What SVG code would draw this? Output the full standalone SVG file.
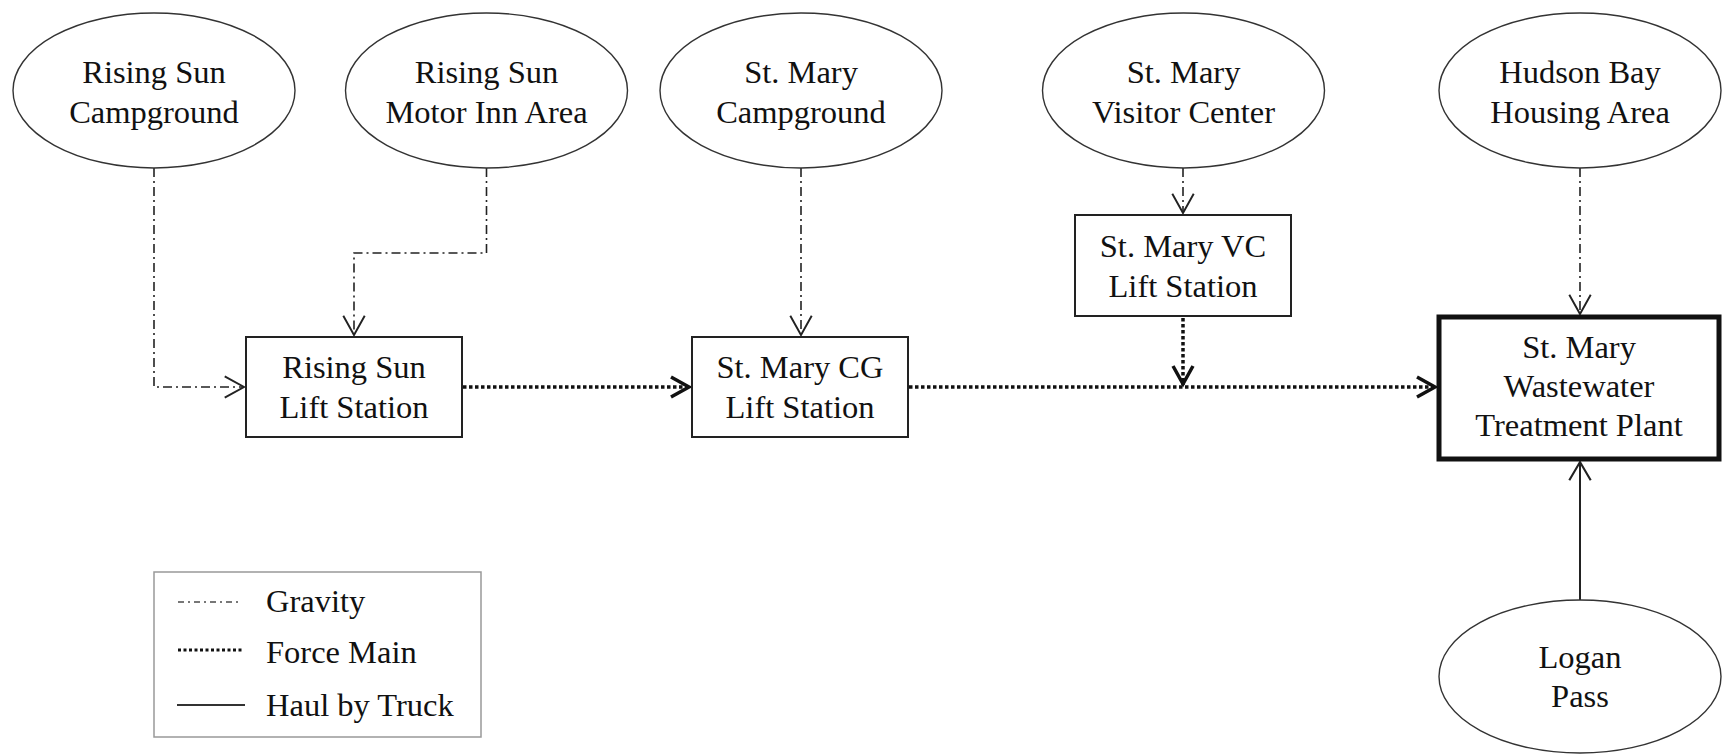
<svg xmlns="http://www.w3.org/2000/svg" width="1722" height="754" viewBox="0 0 1722 754">
<style>
  text { font-family: "Liberation Serif", "Times New Roman", serif; font-size: 32.5px; fill: #111; text-anchor: middle; }
  .leg text, text.leg { text-anchor: start; }
  .ell { fill: #fff; stroke: #333; stroke-width: 1.4; }
  .box { fill: #fff; stroke: #222; stroke-width: 2; }
  .plant { fill: #fff; stroke: #111; stroke-width: 5; }
  .grav { fill: none; stroke: #222; stroke-width: 1.6; stroke-dasharray: 9 4 2 4; }
  .force { fill: none; stroke: #111; stroke-width: 3.5; stroke-dasharray: 3.5 2.5; }
  .truck { fill: none; stroke: #222; stroke-width: 2; }
</style>
<defs>
  <marker id="arrG" markerUnits="userSpaceOnUse" markerWidth="30" markerHeight="30" viewBox="-22 -14 26 28" refX="0" refY="0" orient="auto">
    <path d="M-18,-10 L0,0 L-18,10" fill="none" stroke="#222" stroke-width="1.8"/>
  </marker>
  <marker id="arrF" markerUnits="userSpaceOnUse" markerWidth="30" markerHeight="30" viewBox="-24 -15 28 30" refX="0" refY="0" orient="auto">
    <path d="M-19,-10 L-1,0 L-19,10" fill="none" stroke="#111" stroke-width="3.5"/>
  </marker>
  <marker id="arrT" markerUnits="userSpaceOnUse" markerWidth="30" markerHeight="30" viewBox="-22 -14 26 28" refX="0" refY="0" orient="auto">
    <path d="M-17,-10 L0,0 L-17,10" fill="none" stroke="#222" stroke-width="2"/>
  </marker>
</defs>

<g id="connectors">
  <polyline class="grav" points="154,168 154,387 244,387" marker-end="url(#arrG)"/>
  <polyline class="grav" points="486.5,168 486.5,253 354,253 354,335" marker-end="url(#arrG)"/>
  <polyline class="grav" points="801,168 801,335" marker-end="url(#arrG)"/>
  <polyline class="grav" points="1183,168 1183,213" marker-end="url(#arrG)"/>
  <polyline class="grav" points="1580,168 1580,314" marker-end="url(#arrG)"/>
  <line class="force" x1="463" y1="387" x2="690" y2="387" marker-end="url(#arrF)"/>
  <line class="force" x1="909" y1="387" x2="1436" y2="387" marker-end="url(#arrF)"/>
  <line class="force" x1="1183" y1="318" x2="1183" y2="385" marker-end="url(#arrF)"/>
  <line class="truck" x1="1580" y1="600" x2="1580" y2="462" marker-end="url(#arrT)"/>
</g>

<g id="rising-sun-campground">
  <ellipse class="ell" cx="154" cy="90.5" rx="141" ry="77.5"/>
  <text x="154" y="82.5">Rising Sun</text>
  <text x="154" y="122.5">Campground</text>
</g>
<g id="rising-sun-motor-inn">
  <ellipse class="ell" cx="486.5" cy="90.5" rx="141" ry="77.5"/>
  <text x="486.5" y="82.5">Rising Sun</text>
  <text x="486.5" y="122.5">Motor Inn Area</text>
</g>
<g id="st-mary-campground">
  <ellipse class="ell" cx="801" cy="90.5" rx="141" ry="77.5"/>
  <text x="801" y="82.5">St. Mary</text>
  <text x="801" y="122.5">Campground</text>
</g>
<g id="st-mary-visitor-center">
  <ellipse class="ell" cx="1183.5" cy="90.5" rx="141" ry="77.5"/>
  <text x="1183.5" y="82.5">St. Mary</text>
  <text x="1183.5" y="122.5">Visitor Center</text>
</g>
<g id="hudson-bay">
  <ellipse class="ell" cx="1580" cy="90.5" rx="141" ry="77.5"/>
  <text x="1580" y="82.5">Hudson Bay</text>
  <text x="1580" y="122.5">Housing Area</text>
</g>

<g id="rising-sun-lift">
  <rect class="box" x="246" y="337" width="216" height="100"/>
  <text x="354" y="378">Rising Sun</text>
  <text x="354" y="418">Lift Station</text>
</g>
<g id="st-mary-cg-lift">
  <rect class="box" x="692" y="337" width="216" height="100"/>
  <text x="800" y="378">St. Mary CG</text>
  <text x="800" y="418">Lift Station</text>
</g>
<g id="st-mary-vc-lift">
  <rect class="box" x="1075" y="215" width="216" height="101"/>
  <text x="1183" y="257">St. Mary VC</text>
  <text x="1183" y="297">Lift Station</text>
</g>
<g id="wwtp">
  <rect class="plant" x="1439" y="317" width="280" height="142"/>
  <text x="1579" y="358">St. Mary</text>
  <text x="1579" y="397">Wastewater</text>
  <text x="1579" y="436">Treatment Plant</text>
</g>
<g id="logan-pass">
  <ellipse class="ell" cx="1580" cy="676.5" rx="141" ry="76.5"/>
  <text x="1580" y="668">Logan</text>
  <text x="1580" y="707">Pass</text>
</g>

<g id="legend" class="leg">
  <rect x="154" y="572" width="327" height="165" fill="#fff" stroke="#999" stroke-width="1.5"/>
  <line x1="178" y1="602" x2="242" y2="602" stroke="#777" stroke-width="2" stroke-dasharray="6 4 2 4"/>
  <line x1="178" y1="650" x2="242" y2="650" stroke="#111" stroke-width="3" stroke-dasharray="3 2.5"/>
  <line x1="177" y1="705" x2="245" y2="705" stroke="#333" stroke-width="2"/>
  <text x="266" y="612">Gravity</text>
  <text x="266" y="663">Force Main</text>
  <text x="266" y="716">Haul by Truck</text>
</g>
</svg>
